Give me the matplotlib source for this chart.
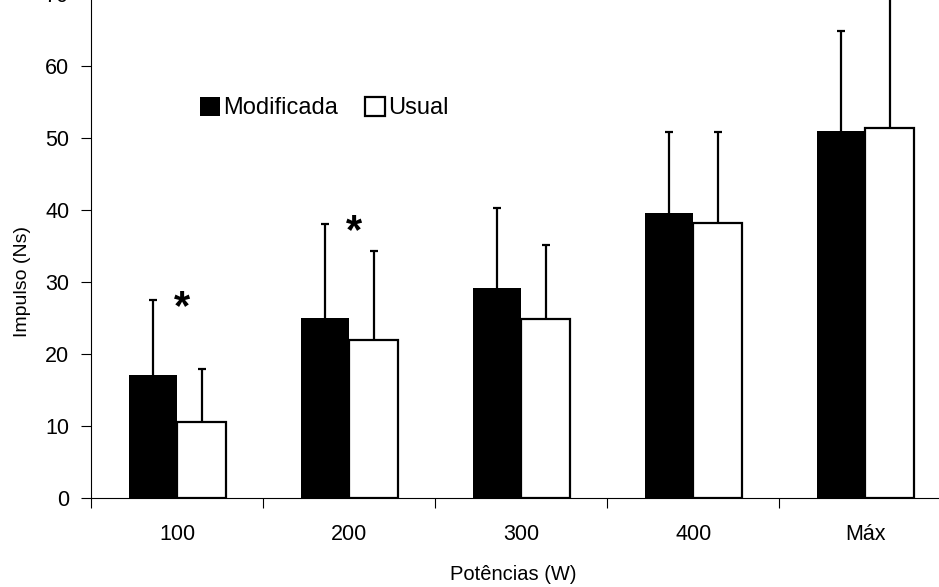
import numpy as np
import matplotlib
matplotlib.use("Agg")
import matplotlib.pyplot as plt
from matplotlib.patches import Patch

plt.rcParams['font.family'] = ['Liberation Sans', 'DejaVu Sans']

# Dados
categorias = ['100', '200', '300', '400', 'Máx']
modificada = [17.0, 25.0, 29.2, 39.6, 51.0]
modificada_dp = [10.5, 13.1, 11.1, 11.2, 13.9]
usual = [10.5, 21.9, 24.9, 38.2, 51.4]
usual_dp = [7.4, 12.4, 10.2, 12.6, 21.0]
significativo = [True, True, False, False, False]

x = np.arange(len(categorias))
w = 0.282
zeros = np.zeros(len(x))

fig = plt.figure(figsize=(9.39, 5.87), dpi=100)
ax = fig.add_axes([0.0974, 0.1521, 0.9159, 0.8575])

# Barras
ax.bar(x - w / 2, modificada, w, color='black', edgecolor='black', linewidth=0, zorder=2)
ax.bar(x + w / 2, usual, w, color='white', edgecolor='black', linewidth=1.6, zorder=2)

# Desvio padrão (só para cima, sem traço na base)
for pos, val, dp in [(x - w / 2, modificada, modificada_dp), (x + w / 2, usual, usual_dp)]:
    eb = ax.errorbar(pos, val, yerr=[zeros, dp], fmt='none', ecolor='black',
                     elinewidth=1.6, capsize=3, capthick=1.6, zorder=1)
    eb[1][0].set_visible(False)

# Asteriscos de significância
for i, sig in enumerate(significativo):
    if sig:
        ax.annotate('*', (x[i], modificada[i] + modificada_dp[i]), xytext=(3, -14),
                    textcoords='offset points', ha='center', va='baseline',
                    fontsize=30, fontweight='bold')

ax.set_xlim(-0.5, len(categorias) - 0.5)
ax.set_ylim(0, 70)
ax.set_yticks(np.arange(0, 71, 10))
ax.set_xticks(x)
ax.set_xticklabels(categorias)
ax.set_xticks(np.arange(-0.5, len(categorias), 1), minor=True)
ax.tick_params(axis='x', which='major', length=0, pad=19, labelsize=15.5)
ax.tick_params(axis='x', which='minor', length=7, width=0.8, direction='out')
ax.tick_params(axis='y', length=7, width=0.8, pad=9, labelsize=15.5)

for s in ['top', 'right']:
    ax.spines[s].set_visible(False)
for s in ['left', 'bottom']:
    ax.spines[s].set_linewidth(0.8)

ax.set_xlabel('Potências (W)', fontsize=14.5)
ax.xaxis.set_label_coords(0.49, -0.133)
ax.set_ylabel('Impulso (Ns)', fontsize=14)
ax.yaxis.set_label_coords(-0.07, 0.4286)

handles = [Patch(facecolor='black', edgecolor='black', linewidth=0),
           Patch(facecolor='white', edgecolor='black', linewidth=1.6)]
fig.legend(handles, ['Modificada', 'Usual'], loc='center left',
           bbox_to_anchor=(200 / 939, 1 - 108 / 587), ncol=2, frameon=False,
           fontsize=17, handlelength=0.85, handleheight=0.85, handletextpad=0.13,
           columnspacing=1.15, borderpad=0, borderaxespad=0)

fig.savefig('out.png', dpi=100)
